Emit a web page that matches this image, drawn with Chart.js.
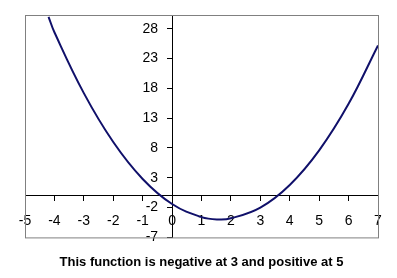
<!DOCTYPE html>
<html>
<head>
<meta charset="utf-8">
<script src="https://cdn.jsdelivr.net/npm/chart.js@4"></script>
<style>
  body { margin: 0; background: #fff; }
  #wrap { width: 397px; height: 278px; }
</style>
</head>
<body>
<div id="wrap"><canvas id="myChart" width="397" height="278"></canvas></div>
<script>
// points
const xValues = [-4.2, -4, -3, -2, -1, 0, 1, 1.6, 2, 3, 4, 5, 6, 7];
const yValues = [30.0, 27.4, 17.2, 9.0, 2.8, -1.4, -3.6, -4.0, -3.8, -2.0, 1.8, 7.6, 15.4, 25.2];

const xTicks = [-5, -4, -3, -2, -1, 0, 1, 2, 3, 4, 5, 6, 7];
const yTicks = [-7, -2, 3, 8, 13, 18, 23, 28];

const titleText = 'This function is negative at 3 and positive at 5';

const points = xValues.map((x, i) => ({ x: x, y: yValues[i] }));

// gray box round the plot area
const plotBorder = {
  id: 'plotBorder',
  afterDraw(chart) {
    const a = chart.chartArea;
    const ctx = chart.ctx;
    ctx.save();
    ctx.strokeStyle = '#808080';
    ctx.lineWidth = 1;
    ctx.strokeRect(a.left + 0.5, a.top + 0.5, a.right - a.left, a.bottom - a.top);
    ctx.restore();
  }
};

const tickFont = { family: 'Arial, "Liberation Sans", sans-serif', size: 14 };

var ctx = document.getElementById('myChart');

var myChart = new Chart(ctx, {
  type: 'scatter',
  data: {
    datasets: [{
      data: points,
      showLine: true,
      borderColor: '#10106a',
      borderWidth: 2,
      pointRadius: 0,
      tension: 0.4,
      fill: false
    }]
  },
  options: {
    responsive: false,
    animation: false,
    layout: { padding: { left: 25, right: 19, top: 15, bottom: 0 } },
    plugins: {
      legend: { display: false },
      tooltip: { enabled: false },
      title: {
        display: true,
        position: 'bottom',
        text: titleText,
        color: '#000',
        font: { family: 'Arial, "Liberation Sans", sans-serif', size: 13, weight: 'bold' },
        padding: { top: 17, bottom: 8 }
      }
    },
    scales: {
      x: {
        type: 'linear',
        position: { y: 0 },
        min: -5,
        max: 7,
        afterBuildTicks: scale => { scale.ticks = xTicks.map(v => ({ value: v })); },
        grid: { drawOnChartArea: false, drawTicks: true, tickLength: 5, color: '#000' },
        border: { display: true, color: '#000', width: 1 },
        ticks: { color: '#000', font: tickFont, padding: 12, maxRotation: 0, autoSkip: false }
      },
      y: {
        type: 'linear',
        position: { x: 0 },
        min: -7,
        max: 30.3,
        afterBuildTicks: scale => { scale.ticks = yTicks.map(v => ({ value: v })); },
        grid: { drawOnChartArea: false, drawTicks: true, tickLength: 5, color: '#000' },
        border: { display: true, color: '#000', width: 1 },
        // centred axis ignores padding, so push labels left with en spaces
        ticks: { color: '#000', font: tickFont, autoSkip: false, callback: v => v + '\u2002\u2002' }
      }
    }
  },
  plugins: [plotBorder]
});
</script>
</body>
</html>
